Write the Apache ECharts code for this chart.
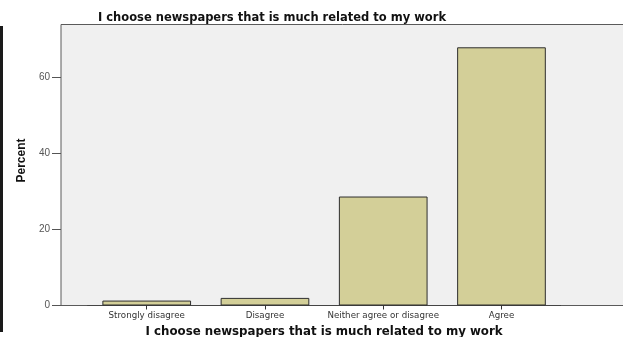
<!DOCTYPE html>
<html>
<head>
<meta charset="utf-8">
<script src="https://cdn.jsdelivr.net/npm/echarts@6/dist/echarts.min.js"></script>
<style>
  html, body { margin: 0; padding: 0; background: #fff; }
  #main { width: 623px; height: 337px; }
</style>
</head>
<body>
<div id="main"></div>
<script>
var titleText = 'I choose newspapers that is much related to my work';
var categories = ['Strongly disagree', 'Disagree', 'Neither agree or disagree', 'Agree'];
var percentValues = [1.3, 2.0, 28.7, 68.0];
var yTicks = [0, 20, 40, 60];

var chart = echarts.init(document.getElementById('main'), null, { renderer: 'canvas' });

var font = '"Liberation Sans", Arial, sans-serif';
var wide = '"DejaVu Sans", Verdana, sans-serif';

var option = {
  animation: false,
  backgroundColor: '#ffffff',
  title: {
    text: titleText,
    left: 267,
    top: 7,
    textAlign: 'center',
    textStyle: { fontFamily: wide, fontSize: 11.5, fontWeight: 'bold', color: '#111' }
  },
  grid: [
    // plot frame
    { left: 61, top: 24.5, right: -20, bottom: 31.5, show: true, outerBoundsMode: 'none',
      backgroundColor: '#f0f0f0', borderColor: '#5a5a5a', borderWidth: 1 },
    // data area, padded inside the frame
    { left: 87.6, top: 24.5, width: 473, bottom: 31.5, outerBoundsMode: 'none' }
  ],
  xAxis: [
    { gridIndex: 0, type: 'value', show: false, min: 0, max: 1 },
    {
      gridIndex: 1,
      type: 'category',
      data: categories,
      boundaryGap: true,
      name: titleText,
      nameLocation: 'middle',
      nameGap: 20,
      nameTextStyle: { fontFamily: wide, fontSize: 11.8, fontWeight: 'bold', color: '#111' },
      axisLine: { show: true, lineStyle: { color: '#444', width: 1 } },
      axisTick: { show: true, alignWithLabel: true, length: 4, lineStyle: { color: '#333' } },
      axisLabel: { fontFamily: wide, fontSize: 8.7, color: '#333', margin: 6, interval: 0 }
    }
  ],
  yAxis: [
    {
      gridIndex: 0,
      type: 'value',
      min: 0,
      max: 74,
      interval: 20,
      name: 'Percent',
      nameLocation: 'middle',
      nameGap: 19,
      nameTextStyle: { fontFamily: font, fontSize: 12, fontWeight: 'bold', color: '#111',
        padding: [0, 0, 0, 9] },
      axisLine: { show: false },
      axisTick: { show: true, length: 9, customValues: yTicks, lineStyle: { color: '#555' } },
      axisLabel: { fontFamily: font, fontSize: 10, color: '#555', margin: 11, customValues: yTicks },
      splitLine: { show: false }
    },
    { gridIndex: 1, type: 'value', min: 0, max: 74, show: false }
  ],
  series: [
    {
      type: 'bar',
      xAxisIndex: 1,
      yAxisIndex: 1,
      data: percentValues,
      barCategoryGap: '25%',
      itemStyle: { color: '#d3cf98', borderColor: '#2e2e2e', borderWidth: 1 }
    }
  ],
  graphic: [
    { type: 'rect', left: 0, top: 26, shape: { width: 3, height: 306 }, style: { fill: '#1a1a1a' } }
  ]
};

chart.setOption(option);
</script>
</body>
</html>
